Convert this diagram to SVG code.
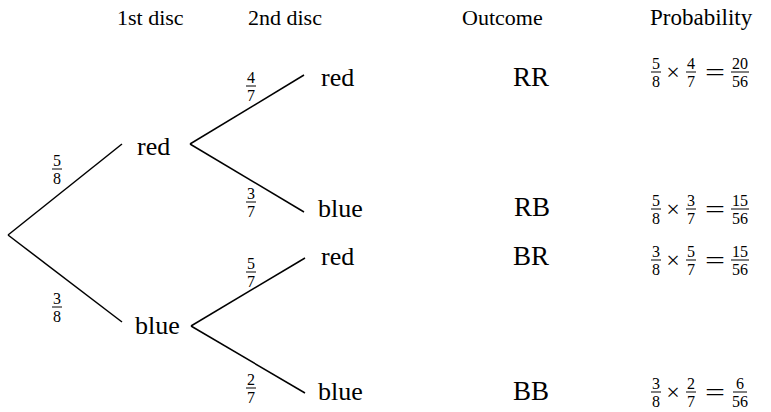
<svg xmlns="http://www.w3.org/2000/svg" width="771" height="412" viewBox="0 0 771 412" font-family="'Liberation Serif', 'DejaVu Serif', 'Times New Roman', serif">
<style>
text{font-family:"Liberation Serif","DejaVu Serif","Times New Roman",serif;fill:#000}
.h{font-size:22px}
.n{font-size:26px}
.f{font-size:16px;text-anchor:middle}
.o{font-size:27px;text-anchor:middle}
.op{font-size:24px;text-anchor:middle}
line{stroke:#000;stroke-width:1.5}
.bar{stroke-width:1}
</style>
<rect width="771" height="412" fill="#fff"/>
<g id="headers">
<text class="h" x="117" y="25">1st disc</text>
<text class="h" x="248" y="25">2nd disc</text>
<text class="h" x="462" y="25">Outcome</text>
<text class="h" x="650" y="25" style="font-size:23px">Probability</text>
</g>
<g id="connectors">
<line x1="8" y1="235" x2="122" y2="144"/>
<line x1="8" y1="235" x2="122" y2="322"/>
<line x1="190" y1="144" x2="304" y2="75"/>
<line x1="190" y1="144" x2="304" y2="212"/>
<line x1="191" y1="326" x2="305" y2="258"/>
<line x1="191" y1="326" x2="305" y2="393"/>
</g>
<g id="branch-labels">
<g id="l58"><text class="f" x="57" y="166">5</text><line class="bar" x1="52" y1="169" x2="62" y2="169"/><text class="f" x="57" y="184">8</text></g>
<g id="l38"><text class="f" x="57" y="304">3</text><line class="bar" x1="52" y1="307" x2="62" y2="307"/><text class="f" x="57" y="322">8</text></g>
<g id="l47"><text class="f" x="251" y="83">4</text><line class="bar" x1="246" y1="86" x2="256" y2="86"/><text class="f" x="251" y="101">7</text></g>
<g id="l37"><text class="f" x="251" y="199">3</text><line class="bar" x1="246" y1="202" x2="256" y2="202"/><text class="f" x="251" y="217">7</text></g>
<g id="l57"><text class="f" x="251" y="269">5</text><line class="bar" x1="246" y1="272" x2="256" y2="272"/><text class="f" x="251" y="287">7</text></g>
<g id="l27"><text class="f" x="251" y="385">2</text><line class="bar" x1="246" y1="388" x2="256" y2="388"/><text class="f" x="251" y="403">7</text></g>
</g>
<g id="node-red1"><text class="n" x="137" y="155">red</text></g>
<g id="node-blue1"><text class="n" x="135" y="334">blue</text></g>
<g id="node-red2a"><text class="n" x="321" y="86">red</text></g>
<g id="node-blue2a"><text class="n" x="318" y="217">blue</text></g>
<g id="node-red2b"><text class="n" x="321" y="265">red</text></g>
<g id="node-blue2b"><text class="n" x="318" y="400">blue</text></g>
<g id="outcomes">
<text class="o" x="531" y="86">RR</text>
<text class="o" x="532" y="216">RB</text>
<text class="o" x="531" y="265">BR</text>
<text class="o" x="531" y="400">BB</text>
</g>
<g id="prob-RR">
<text class="f" x="656" y="69">5</text><line class="bar" x1="651" y1="72" x2="661" y2="72"/><text class="f" x="656" y="87">8</text>
<text class="op" x="673" y="80">×</text>
<text class="f" x="691" y="69">4</text><line class="bar" x1="686" y1="72" x2="696" y2="72"/><text class="f" x="691" y="87">7</text>
<text class="op" x="715" y="80" textLength="20" lengthAdjust="spacingAndGlyphs">=</text>
<text class="f" x="740" y="69">20</text><line class="bar" x1="731" y1="72" x2="749" y2="72"/><text class="f" x="740" y="87">56</text>
</g>
<g id="prob-RB">
<text class="f" x="656" y="206">5</text><line class="bar" x1="651" y1="209" x2="661" y2="209"/><text class="f" x="656" y="224">8</text>
<text class="op" x="673" y="217">×</text>
<text class="f" x="691" y="206">3</text><line class="bar" x1="686" y1="209" x2="696" y2="209"/><text class="f" x="691" y="224">7</text>
<text class="op" x="715" y="217" textLength="20" lengthAdjust="spacingAndGlyphs">=</text>
<text class="f" x="740" y="206">15</text><line class="bar" x1="731" y1="209" x2="749" y2="209"/><text class="f" x="740" y="224">56</text>
</g>
<g id="prob-BR">
<text class="f" x="656" y="257">3</text><line class="bar" x1="651" y1="260" x2="661" y2="260"/><text class="f" x="656" y="275">8</text>
<text class="op" x="673" y="268">×</text>
<text class="f" x="691" y="257">5</text><line class="bar" x1="686" y1="260" x2="696" y2="260"/><text class="f" x="691" y="275">7</text>
<text class="op" x="715" y="268" textLength="20" lengthAdjust="spacingAndGlyphs">=</text>
<text class="f" x="740" y="257">15</text><line class="bar" x1="731" y1="260" x2="749" y2="260"/><text class="f" x="740" y="275">56</text>
</g>
<g id="prob-BB">
<text class="f" x="656" y="389">3</text><line class="bar" x1="651" y1="392" x2="661" y2="392"/><text class="f" x="656" y="407">8</text>
<text class="op" x="673" y="400">×</text>
<text class="f" x="691" y="389">2</text><line class="bar" x1="686" y1="392" x2="696" y2="392"/><text class="f" x="691" y="407">7</text>
<text class="op" x="715" y="400" textLength="20" lengthAdjust="spacingAndGlyphs">=</text>
<text class="f" x="740" y="389">6</text><line class="bar" x1="733" y1="392" x2="747" y2="392"/><text class="f" x="740" y="407">56</text>
</g>
</svg>
